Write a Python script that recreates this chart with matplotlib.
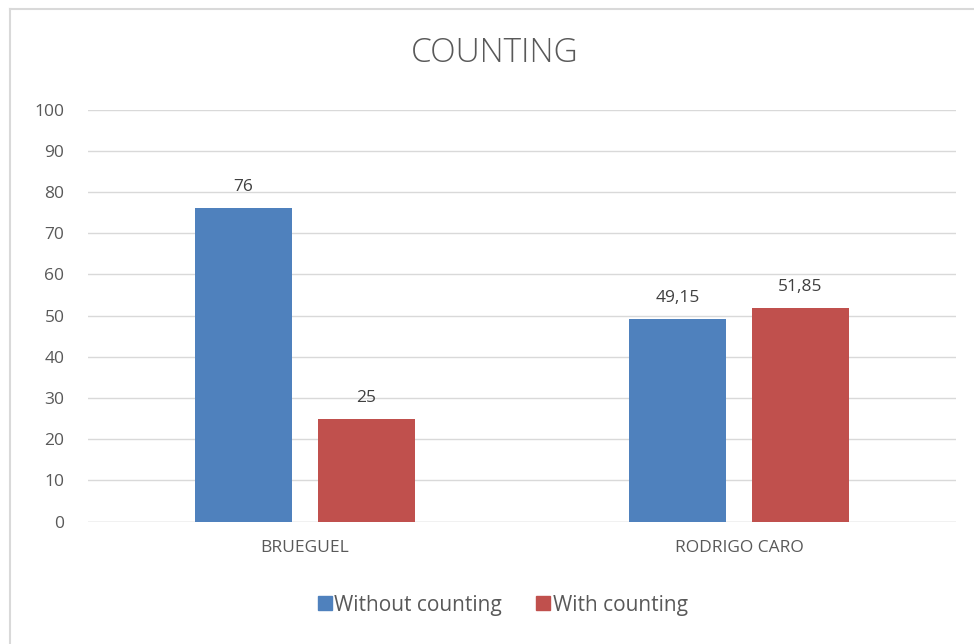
import matplotlib.pyplot as plt
import numpy as np
from matplotlib.lines import Line2D

categories = ['BRUEGUEL', 'RODRIGO CARO']
without_counting = [76, 49.15]
with_counting = [25, 51.85]
labels_without = ['76', '49,15']
labels_with = ['25', '51,85']
yticks = [0, 10, 20, 30, 40, 50, 60, 70, 80, 90, 100]

blue = '#4F81BD'
red = '#C0504D'
txt = '#595959'

plt.rcParams['font.family'] = ['Open Sans', 'DejaVu Sans']

fig = plt.figure(figsize=(9.74, 6.44), dpi=100)
ax = fig.add_axes([88 / 974, 1 - 521.5 / 644, (956 - 88) / 974, (521.5 - 109.5) / 644])

x = np.arange(len(categories))
w = 0.223
off = 0.1415
b1 = ax.bar(x - off, without_counting, w, color=blue, zorder=3)
b2 = ax.bar(x + off, with_counting, w, color=red, zorder=3)

for bars, labs in ((b1, labels_without), (b2, labels_with)):
    for rect, lab in zip(bars, labs):
        ax.annotate(lab, (rect.get_x() + rect.get_width() / 2, rect.get_height()),
                    xytext=(0, 13), textcoords='offset pixels', ha='center', va='bottom',
                    fontsize=12.5, color='#404040')

ax.set_xlim(-0.5, 1.5)
ax.set_ylim(0, 100)
ax.set_yticks(yticks)
ax.set_xticks(x)
ax.set_xticklabels(categories)
ax.yaxis.grid(True, color='#D9D9D9', linewidth=1, zorder=0)
for s in ax.spines.values():
    s.set_visible(False)
ax.tick_params(axis='both', length=0, colors=txt, labelsize=12.5)
ax.tick_params(axis='y', pad=17)
ax.tick_params(axis='x', pad=13)
ax.axhline(0, color='#D9D9D9', linewidth=1, zorder=1)

fig.text(495 / 974, 1 - 53 / 644, 'COUNTING', ha='center', va='center', fontsize=24,
         color=txt, fontweight='light')

handles = [Line2D([], [], marker='s', linestyle='', markersize=10, color=blue),
           Line2D([], [], marker='s', linestyle='', markersize=10, color=red)]
fig.legend(handles, ['Without counting', 'With counting'], loc='center',
           bbox_to_anchor=(502 / 974, 1 - 605 / 644), ncol=2, frameon=False,
           fontsize=15, labelcolor=txt, handletextpad=0.05, columnspacing=1.6,
           handlelength=0.8)

# chart frame (left and top edges visible)
fig.add_artist(Line2D([10 / 974, 10 / 974], [0, 1 - 9 / 644], transform=fig.transFigure,
                      color='#D9D9D9', linewidth=1.5))
fig.add_artist(Line2D([10 / 974, 1], [1 - 9 / 644, 1 - 9 / 644], transform=fig.transFigure,
                      color='#D9D9D9', linewidth=1.5))

fig.savefig('out.png', dpi=100)
